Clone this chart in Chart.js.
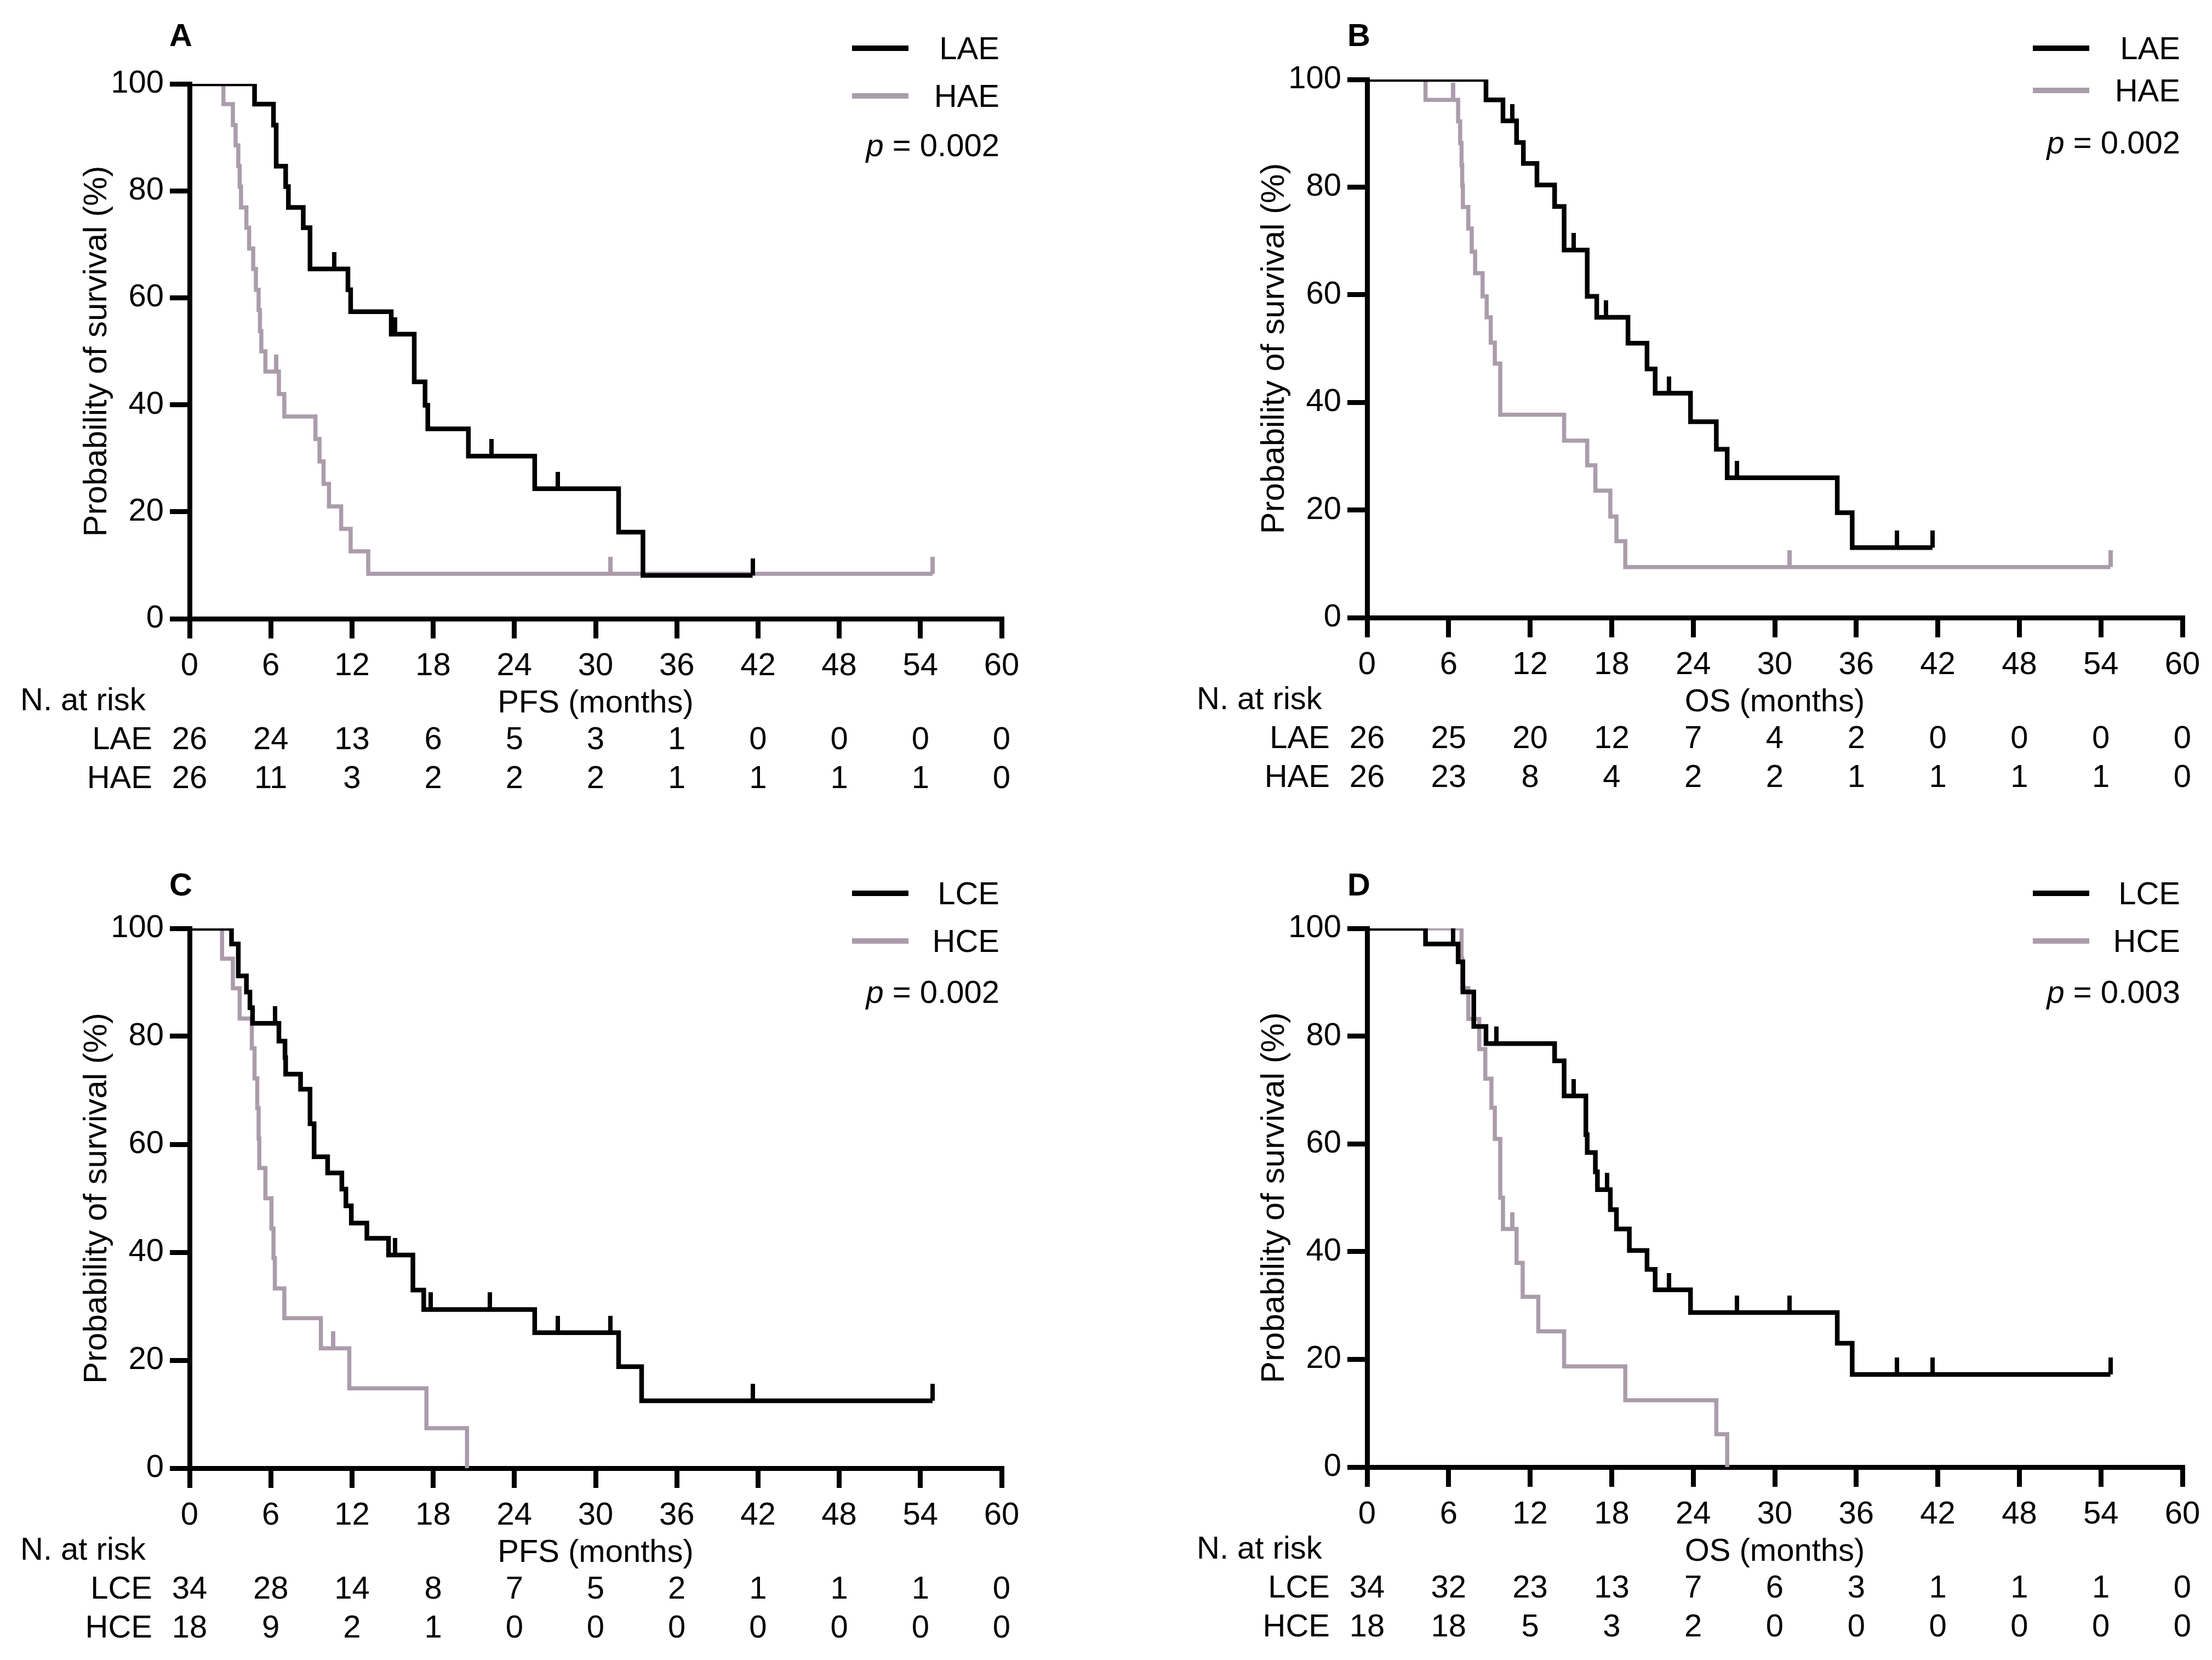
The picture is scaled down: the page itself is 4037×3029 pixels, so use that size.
<!DOCTYPE html>
<html>
<head>
<meta charset="utf-8">
<script src="https://cdn.jsdelivr.net/npm/chart.js@4.4.0/dist/chart.umd.min.js"></script>
<style>
  body { margin: 0; background: #fff; width: 4037px; height: 3029px; position: relative; overflow: hidden;
         font-family: 'Liberation Sans', Arial, Helvetica, sans-serif; }
  canvas { position: absolute; }
  .t { position: absolute; white-space: nowrap; font-size: 58px; line-height: 1; color: #000; }
  .key { position: absolute; height: 10px; width: 103px; }
</style>
</head>
<body>
<script>
// tick labels
const xTicks = [0, 6, 12, 18, 24, 30, 36, 42, 48, 54, 60];
const yTicks = [0, 20, 40, 60, 80, 100];

// A: PFS, LAE vs HAE  (event times, survival after event, censor times)
const aLaeT = [4.8, 6.2, 6.4, 7.1, 7.3, 8.4, 8.9, 11.7, 11.9, 14.9, 16.6, 17.4, 17.6, 20.6, 25.5, 31.7, 33.5];
const aLaeS = [96.2, 92.3, 84.6, 80.8, 76.9, 73.1, 65.4, 61.5, 57.4, 53.2, 44.3, 39.9, 35.5, 30.4, 24.3, 16.2, 8.1];
const aLaeC = [10.7, 15.2, 22.3, 27.2, 41.6];
const aHaeT = [2.5, 3.2, 3.4, 3.6, 3.7, 3.8, 4.2, 4.4, 4.7, 4.9, 5.1, 5.2, 5.3, 5.6, 6.6, 7.0, 9.3, 9.6, 9.9, 10.3, 11.2, 11.9, 13.2];
const aHaeS = [96.2, 92.3, 88.5, 84.6, 80.8, 76.9, 73.1, 69.2, 65.4, 61.5, 57.7, 53.8, 50.0, 46.2, 42.0, 37.8, 33.6, 29.4, 25.2, 21.0, 16.8, 12.6, 8.4];
const aHaeC = [6.4, 31.1, 54.9];
const aRiskLae = [26, 24, 13, 6, 5, 3, 1, 0, 0, 0, 0];
const aRiskHae = [26, 11, 3, 2, 2, 2, 1, 1, 1, 1, 0];

// B: OS, LAE vs HAE
const bLaeT = [8.75, 10.0, 11.0, 11.5, 12.5, 13.8, 14.5, 16.2, 16.9, 19.2, 20.6, 21.2, 23.8, 25.7, 26.5, 34.6, 35.7];
const bLaeS = [96.2, 92.3, 88.3, 84.4, 80.4, 76.4, 68.3, 59.7, 55.8, 51.0, 46.2, 41.7, 36.4, 31.3, 26.0, 19.5, 13.0];
const bLaeC = [10.7, 15.2, 17.6, 22.2, 27.2, 39.0, 41.6];
const bHaeT = [4.3, 6.7, 6.85, 6.95, 7.0, 7.05, 7.45, 7.7, 7.95, 8.5, 8.8, 9.1, 9.4, 9.8, 14.5, 16.2, 16.8, 17.9, 18.35, 19.0];
const bHaeS = [96.2, 92.2, 88.2, 84.1, 80.3, 76.3, 72.3, 68.0, 64.0, 59.7, 55.8, 51.1, 47.2, 37.7, 32.9, 28.3, 23.6, 18.8, 14.2, 9.4];
const bHaeC = [6.35, 31.1, 54.7];
const bRiskLae = [26, 25, 20, 12, 7, 4, 2, 0, 0, 0, 0];
const bRiskHae = [26, 23, 8, 4, 2, 2, 1, 1, 1, 1, 0];

// C: PFS, LCE vs HCE
const cLceT = [3.1, 3.6, 4.2, 4.46, 4.65, 6.6, 7.05, 7.1, 8.2, 8.9, 9.2, 10.2, 11.25, 11.55, 11.95, 13.1, 14.7, 16.5, 17.3, 25.5, 31.7, 33.4];
const cLceS = [97.1, 91.2, 88.2, 85.3, 82.4, 79.1, 76.1, 73.0, 70.2, 63.8, 57.7, 54.7, 51.7, 48.6, 45.4, 42.6, 39.5, 33.0, 29.4, 25.1, 18.8, 12.5];
const cLceC = [6.3, 15.2, 17.8, 22.2, 27.2, 31.1, 41.6, 54.9];
const cHceT = [2.4, 3.2, 3.7, 4.6, 4.8, 5.0, 5.1, 5.15, 5.6, 6.05, 6.2, 6.3, 7.0, 9.7, 11.8, 17.5, 20.5];
const cHceS = [94.4, 88.9, 83.3, 77.8, 72.2, 66.7, 61.1, 55.6, 50.0, 44.4, 38.9, 33.3, 27.8, 22.2, 14.8, 7.4, 0];
const cHceC = [10.6];
const cRiskLce = [34, 28, 14, 8, 7, 5, 2, 1, 1, 1, 0];
const cRiskHce = [18, 9, 2, 1, 0, 0, 0, 0, 0, 0, 0];

// D: OS, LCE vs HCE
const dLceT = [4.3, 6.7, 7.05, 7.85, 8.75, 13.8, 14.5, 16.1, 16.2, 16.8, 16.95, 17.9, 18.35, 19.3, 20.6, 21.2, 23.8, 34.6, 35.7];
const dLceS = [97.1, 93.8, 88.2, 81.8, 78.6, 75.4, 68.9, 61.7, 58.4, 54.8, 51.5, 47.8, 44.2, 40.2, 36.7, 32.9, 28.7, 23.0, 17.2];
const dLceC = [6.35, 9.5, 15.2, 17.65, 22.2, 27.2, 31.1, 39.0, 41.6, 54.7];
const dHceT = [6.95, 7.0, 7.45, 8.25, 8.7, 9.15, 9.4, 9.8, 10.0, 11.0, 11.45, 12.6, 14.5, 19.0, 25.7, 26.5];
const dHceS = [94.4, 88.9, 83.2, 77.6, 72.1, 66.7, 60.9, 50.0, 44.2, 37.9, 31.6, 25.2, 18.7, 12.4, 6.1, 0];
const dHceC = [10.7];
const dRiskLce = [34, 32, 23, 13, 7, 6, 3, 1, 1, 1, 0];
const dRiskHce = [18, 18, 5, 3, 2, 0, 0, 0, 0, 0, 0];

const BLACK = '#000000';
const GREY = '#ab9cab';
const FONT = "'Liberation Sans', Arial, Helvetica, sans-serif";

// page layout of the four panels (canvas box and plot area in page pixels)
const panels = [
  { letter: 'A', box: [0, 0, 2018, 1514], area: [346, 153, 1828, 1129], xTitle: 'PFS (months)',
    names: ['LAE', 'HAE'], p: '0.002', letterPos: [330, 64], leg: [-65, 22, 112], risk: [aRiskLae, aRiskHae],
    black: [aLaeT, aLaeS, aLaeC], grey: [aHaeT, aHaeS, aHaeC], labL: 37, labR: 278 },
  { letter: 'B', box: [2018, 0, 2019, 1514], area: [2495, 145, 3983, 1127], xTitle: 'OS (months)',
    names: ['LAE', 'HAE'], p: '0.002', letterPos: [2480, 64], leg: [-57, 20, 115], risk: [bRiskLae, bRiskHae],
    black: [bLaeT, bLaeS, bLaeC], grey: [bHaeT, bHaeS, bHaeC], labL: 2184, labR: 2427 },
  { letter: 'C', box: [0, 1514, 2018, 1515], area: [346, 1694, 1828, 2679], xTitle: 'PFS (months)',
    names: ['LCE', 'HCE'], p: '0.002', letterPos: [330, 1614], leg: [-64, 23, 116], risk: [cRiskLce, cRiskHce],
    black: [cLceT, cLceS, cLceC], grey: [cHceT, cHceS, cHceC], labL: 37, labR: 278 },
  { letter: 'D', box: [2018, 1514, 2019, 1515], area: [2495, 1694, 3983, 2677], xTitle: 'OS (months)',
    names: ['LCE', 'HCE'], p: '0.003', letterPos: [2480, 1614], leg: [-64, 23, 116], risk: [dRiskLce, dRiskHce],
    black: [dLceT, dLceS, dLceC], grey: [dHceT, dHceS, dHceC], labL: 2184, labR: 2427 }
];

function stepPoints(t, s, c) {
  const pts = [{ x: 0, y: 100 }];
  t.forEach((v, i) => pts.push({ x: v, y: s[i] }));
  const end = Math.max(0, ...c);
  if (end > t[t.length - 1]) pts.push({ x: end, y: s[s.length - 1] });
  return pts;
}
function survAt(t, s, time) {
  let v = 100;
  t.forEach((x, i) => { if (x <= time) v = s[i]; });
  return v;
}
function censorPoints(t, s, c) {
  return c.map(x => ({ x: x, y: survAt(t, s, x) }));
}
// censor mark: a short vertical stroke sitting on top of the curve
function censorMark(color) {
  const cv = document.createElement('canvas');
  cv.width = 8; cv.height = 62;
  const g = cv.getContext('2d');
  g.fillStyle = color;
  g.fillRect(0, 0, 8, 31);
  return cv;
}
const markBlack = censorMark(BLACK);
const markGrey = censorMark(GREY);

function text(html, x, y, align, extra) {
  const d = document.createElement('div');
  d.className = 't';
  d.innerHTML = html;
  d.style.left = x + 'px';
  d.style.top = y + 'px';
  d.style.transform = align === 'right' ? 'translate(-100%,-50%)' : align === 'left' ? 'translate(0,-50%)' : 'translate(-50%,-50%)';
  if (extra) Object.assign(d.style, extra);
  document.body.appendChild(d);
}

Chart.defaults.color = '#000';
Chart.defaults.font.family = FONT;

const X_H = 200;

panels.forEach(p => {
  const [bx, by, bw, bh] = p.box;
  const [al, at, ar, ab] = p.area;
  const cv = document.createElement('canvas');
  cv.width = bw; cv.height = bh;
  cv.style.left = bx + 'px'; cv.style.top = by + 'px';
  cv.style.width = bw + 'px'; cv.style.height = bh + 'px';
  document.body.appendChild(cv);

  const yW = al - bx;
  const chart = new Chart(cv, {
    type: 'line',
    data: {
      datasets: [
        { data: stepPoints(...p.black), borderColor: BLACK, borderWidth: 8.5, stepped: true,
          pointRadius: 0, fill: false, borderJoinStyle: 'miter', borderCapStyle: 'butt' },
        { data: censorPoints(...p.black), showLine: false, pointStyle: markBlack, pointRadius: 5,
          borderColor: BLACK, backgroundColor: BLACK },
        { data: stepPoints(...p.grey), borderColor: GREY, borderWidth: 7.5, stepped: true,
          pointRadius: 0, fill: false, borderJoinStyle: 'miter', borderCapStyle: 'butt' },
        { data: censorPoints(...p.grey), showLine: false, pointStyle: markGrey, pointRadius: 5,
          borderColor: GREY, backgroundColor: GREY }
      ]
    },
    options: {
      animation: false, responsive: false, devicePixelRatio: 1, events: [],
      layout: { padding: { left: 0, top: at - by, right: bx + bw - ar, bottom: by + bh - ab - X_H } },
      plugins: { legend: { display: false }, tooltip: { enabled: false } },
      scales: {
        x: {
          type: 'linear', min: 0, max: 60,
          afterBuildTicks: s => { s.ticks = xTicks.map(v => ({ value: v })); },
          afterFit: s => { s.height = X_H; },
          border: { display: true, color: BLACK, width: 9 },
          grid: { drawOnChartArea: false, drawTicks: true, tickLength: 36, tickWidth: 9, tickColor: BLACK, color: BLACK, lineWidth: 9 },
          ticks: { font: { size: 58, family: FONT }, color: BLACK, padding: 16, maxRotation: 0, autoSkip: false },
          title: { display: true, text: p.xTitle, font: { size: 58, family: FONT }, color: BLACK, padding: { top: 0, bottom: 10 } }
        },
        y: {
          type: 'linear', min: 0, max: 100,
          afterBuildTicks: s => { s.ticks = yTicks.map(v => ({ value: v })); },
          afterFit: s => { s.width = yW; },
          border: { display: true, color: BLACK, width: 9 },
          grid: { drawOnChartArea: false, drawTicks: true, tickLength: 36, tickWidth: 9, tickColor: BLACK, color: BLACK, lineWidth: 9 },
          ticks: { font: { size: 58, family: FONT }, color: BLACK, padding: 11, autoSkip: false },
          title: { display: true, text: 'Probability of survival (%)', font: { size: 60, family: FONT }, color: BLACK,
                   padding: { top: yW - 169 - 36, bottom: 0 } }
        }
      }
    }
  });

  // number at risk table, aligned with the x ticks
  const xs = chart.scales.x;
  const bottom = by + chart.chartArea.bottom;
  text('N. at risk', p.labL, bottom + 147, 'left');
  p.names.forEach((n, r) => {
    const y = bottom + 218 + r * 71;
    text(n, p.labR, y, 'right');
    p.risk[r].forEach((v, i) => text(String(v), bx + xs.getPixelForValue(xTicks[i]), y, 'center'));
  });

  // legend and p value
  const right = bx + chart.chartArea.right - 4;
  const top = by + chart.chartArea.top;
  [BLACK, GREY].forEach((c, i) => {
    const k = document.createElement('div');
    k.className = 'key';
    k.style.background = c;
    k.style.left = (right - 269) + 'px';
    k.style.top = (top + p.leg[i] - 5) + 'px';
    document.body.appendChild(k);
    text(p.names[i], right, top + p.leg[i], 'right');
  });
  text('<i>p</i> = ' + p.p, right, top + p.leg[2], 'right');

  // panel letter
  text(p.letter, p.letterPos[0], p.letterPos[1], 'center', { fontWeight: 'bold' });
});
</script>
</body>
</html>
